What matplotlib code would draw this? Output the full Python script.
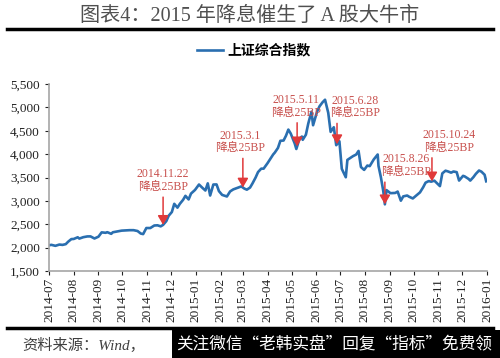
import numpy as np
import pandas as pd
import matplotlib
matplotlib.use("Agg")
from matplotlib import pyplot as plt
import matplotlib.dates as mdates

# Shanghai composite, closing values
dates = [
    "2014-07-01", "2014-07-04", "2014-07-09", "2014-07-14", "2014-07-18", "2014-07-22",
    "2014-07-25", "2014-07-29", "2014-08-01", "2014-08-06", "2014-08-08", "2014-08-13",
    "2014-08-18", "2014-08-22", "2014-08-27", "2014-09-01", "2014-09-05", "2014-09-10",
    "2014-09-12", "2014-09-17", "2014-09-19", "2014-09-24", "2014-09-30", "2014-10-10",
    "2014-10-15", "2014-10-20", "2014-10-24", "2014-10-27", "2014-10-31", "2014-11-05",
    "2014-11-10", "2014-11-14", "2014-11-18", "2014-11-21", "2014-11-25", "2014-11-28",
    "2014-12-02", "2014-12-05", "2014-12-09", "2014-12-12", "2014-12-16", "2014-12-19",
    "2014-12-23", "2014-12-26", "2014-12-31", "2015-01-05", "2015-01-09", "2015-01-13",
    "2015-01-16", "2015-01-19", "2015-01-23", "2015-01-27", "2015-01-30", "2015-02-03",
    "2015-02-09", "2015-02-13", "2015-02-17", "2015-02-27", "2015-03-03", "2015-03-06",
    "2015-03-10", "2015-03-13", "2015-03-17", "2015-03-20", "2015-03-24", "2015-03-27",
    "2015-04-01", "2015-04-03", "2015-04-08", "2015-04-10", "2015-04-14", "2015-04-17",
    "2015-04-21", "2015-04-24", "2015-04-27", "2015-04-30", "2015-05-05", "2015-05-07",
    "2015-05-11", "2015-05-14", "2015-05-15", "2015-05-19", "2015-05-22", "2015-05-26",
    "2015-05-28", "2015-06-02", "2015-06-05", "2015-06-09", "2015-06-12", "2015-06-16",
    "2015-06-19", "2015-06-23", "2015-06-26", "2015-06-30", "2015-07-03", "2015-07-08",
    "2015-07-10", "2015-07-14", "2015-07-17", "2015-07-21", "2015-07-24", "2015-07-27",
    "2015-07-31", "2015-08-04", "2015-08-07", "2015-08-12", "2015-08-17", "2015-08-18",
    "2015-08-21", "2015-08-24", "2015-08-26", "2015-08-28", "2015-09-02", "2015-09-08",
    "2015-09-11", "2015-09-15", "2015-09-18", "2015-09-23", "2015-09-25", "2015-09-30",
    "2015-10-09", "2015-10-13", "2015-10-16", "2015-10-20", "2015-10-23", "2015-10-27",
    "2015-10-30", "2015-11-03", "2015-11-06", "2015-11-10", "2015-11-13", "2015-11-17",
    "2015-11-20", "2015-11-24", "2015-11-27", "2015-12-02", "2015-12-04", "2015-12-09",
    "2015-12-11", "2015-12-15", "2015-12-18", "2015-12-22", "2015-12-25", "2015-12-29",
    "2015-12-31",
]
values = [
    2050, 2060, 2039, 2066, 2059, 2075,
    2127, 2183, 2186, 2222, 2194, 2224,
    2240, 2241, 2196, 2235, 2327, 2318,
    2331, 2296, 2329, 2345, 2364, 2374,
    2374, 2356, 2302, 2290, 2420, 2420,
    2474, 2478, 2456, 2487, 2567, 2683,
    2763, 2938, 2856, 2938, 3022, 3109,
    3032, 3157, 3235, 3351, 3285, 3223,
    3376, 3116, 3351, 3353, 3210, 3129,
    3095, 3203, 3247, 3310, 3263, 3241,
    3286, 3373, 3502, 3617, 3691, 3691,
    3810, 3863, 3995, 4034, 4135, 4287,
    4293, 4394, 4527, 4442, 4229, 4112,
    4333, 4378, 4308, 4418, 4658, 4910,
    4620, 4910, 5023, 5114, 5166, 4887,
    4478, 4577, 4193, 4277, 3687, 3507,
    3878, 3925, 3958, 3993, 4070, 3726,
    3664, 3757, 3745, 3887, 3994, 3749,
    3507, 3210, 2927, 3232, 3166, 3171,
    3200, 3005, 3097, 3116, 3093, 3053,
    3183, 3293, 3391, 3425, 3412, 3434,
    3383, 3317, 3590, 3647, 3632, 3605,
    3630, 3616, 3436, 3537, 3525, 3470,
    3435, 3510, 3579, 3651, 3627, 3560,
    3420,
]

# rate cuts
cut_dates = ["2014-11-21", "2015-03-01", "2015-05-08", "2015-06-27", "2015-08-26", "2015-10-24"]
cut_labels = ["2014.11.22", "2015.3.1", "2015.5.11", "2015.6.28", "2015.8.26", "2015.10.24"]

dt = pd.to_datetime(dates)
val = np.array(values, dtype=float)

serif_cjk = ["Liberation Serif", "Noto Sans CJK SC"]
sans_cjk = ["Noto Sans CJK SC", "DejaVu Sans"]

fig = plt.figure(figsize=(5, 3.58), dpi=100)
ax = fig.add_axes([0.098, 0.243, 0.876, 0.522])

ax.plot(dt, val, color="#2a6fb0", lw=1.9, label="上证综合指数")

ax.set_ylim(1500, 5500)
ax.set_yticks(np.arange(1500, 5501, 500))
ax.yaxis.set_major_formatter(matplotlib.ticker.FuncFormatter(lambda v, p: f"{int(v):,}"))
ax.set_xlim(pd.Timestamp("2014-07-01"), pd.Timestamp("2016-01-01"))
ax.xaxis.set_major_locator(mdates.MonthLocator())
ax.xaxis.set_major_formatter(mdates.DateFormatter("%Y-%m"))
for lab in ax.get_xticklabels():
    lab.set_rotation(90)
    lab.set_fontfamily("Liberation Serif")
    lab.set_fontsize(9.5)
for lab in ax.get_yticklabels():
    lab.set_fontfamily("Liberation Serif")
    lab.set_fontsize(9.5)
ax.tick_params(colors="#222222", length=3, width=0.8)
ax.tick_params(axis="x", pad=2)
for s in ["top", "right"]:
    ax.spines[s].set_visible(False)
for s in ["left", "bottom"]:
    ax.spines[s].set_color("#a6a6a6")
    ax.spines[s].set_linewidth(1.2)

# arrow length (points) and text x-offset for each label
arrow_len = [20, 21, 17, 15, 16, 17]
text_dx = [0, -2, -1, 13, 15, 12]
dnum = mdates.date2num(dt)
for d, lab, al, dx in zip(cut_dates, cut_labels, arrow_len, text_dx):
    x = pd.Timestamp(d)
    y = np.interp(mdates.date2num(x), dnum, val)
    ax.annotate("", xy=(x, y), xytext=(0, al), textcoords="offset points",
                arrowprops=dict(arrowstyle="-|>,head_length=0.55,head_width=0.32",
                                color="#e0393a", lw=1.1, shrinkA=0, shrinkB=0))
    ax.annotate(lab + "\n降息25BP", xy=(x, y), xytext=(dx, al + 3), textcoords="offset points",
                ha="center", va="bottom", color="#c8504d", fontsize=8.5,
                family=serif_cjk, linespacing=1.05)

leg = ax.legend(loc="center", bbox_to_anchor=(0.468, 1.18), frameon=False,
                handlelength=1.9, handletextpad=0.3,
                prop=dict(family=sans_cjk, weight="bold", size=10))

# title and rules
fig.text(0.5, 0.953, "图表4：2015 年降息催生了 A 股大牛市", ha="center", va="center",
         fontsize=14.5, color="#505050", family=serif_cjk, weight="light")
fig.add_artist(plt.Line2D([0.014, 0.986], [0.918, 0.918], color="black", lw=2.5))
fig.add_artist(plt.Line2D([0.014, 0.986], [0.083, 0.083], color="black", lw=2.5))
fig.text(0.044, 0.036, "资料来源：Wind，", ha="left", va="center", fontsize=11,
         color="#404040", family=serif_cjk, style="italic")
fig.add_artist(plt.Rectangle((0.344, 0.0), 0.656, 0.078, transform=fig.transFigure,
                             facecolor="black", edgecolor="none"))
fig.text(0.352, 0.036, "关注微信“老韩实盘”回复“指标”免费领", ha="left", va="center",
         fontsize=12, color="white", family=sans_cjk)

fig.savefig("out.png", dpi=100)
